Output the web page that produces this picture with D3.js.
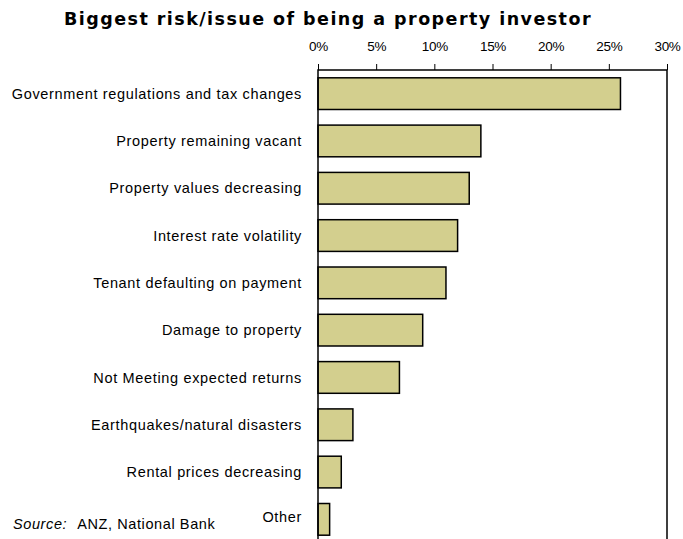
<!DOCTYPE html>
<html><head><meta charset="utf-8">
<script src="https://cdn.jsdelivr.net/npm/d3@7"></script>
<style>body{margin:0;background:#fff}svg{display:block}</style>
</head><body>
<script>
const categories = ["Government regulations and tax changes","Property remaining vacant","Property values decreasing","Interest rate volatility","Tenant defaulting on payment","Damage to property","Not Meeting expected returns","Earthquakes/natural disasters","Rental prices decreasing","Other"];
const values = [26, 14, 13, 12, 11, 9, 7, 3, 2, 1];
const tickValues = [0, 5, 10, 15, 20, 25, 30];

const W = 683, H = 539;
const svg = d3.select("body").append("svg").attr("width", W).attr("height", H);

const x = d3.scaleLinear().domain([0, 30]).range([318, 667]);
const y = d3.scaleBand().domain(categories).range([70, 543]).paddingInner(0.33).paddingOuter(0.165);

svg.append("text").attr("x", 328).attr("y", 25).attr("text-anchor", "middle")
  .attr("font-family", "DejaVu Sans").attr("font-weight", "bold").attr("font-size", 17.5)
  .attr("letter-spacing", 1.45)
  .text("Biggest risk/issue of being a property investor");

// bars
svg.selectAll("rect.bar").data(values).join("rect").attr("class","bar")
  .attr("x", x(0)).attr("y", (d,i)=>y(categories[i]))
  .attr("width", d=>x(d)-x(0)).attr("height", y.bandwidth())
  .attr("fill", "#d3cf8e").attr("stroke", "#000").attr("stroke-width", 1.5);

// frame
svg.append("path").attr("d", `M${x(0)},${H+5}V70H${x(30)}V${H+5}`)
  .attr("fill","none").attr("stroke","#000").attr("stroke-width",1.5);

// top axis
const axis = d3.axisTop(x).tickValues(tickValues).tickFormat(d=>d+"%").tickSize(6).tickPadding(13);
const ag = svg.append("g").attr("transform","translate(0,70)").call(axis);
ag.select(".domain").remove();
ag.selectAll("line").attr("stroke","#000").attr("stroke-width",1);
ag.selectAll("text").attr("font-family","Liberation Sans, Arial").attr("font-size",13.5).attr("letter-spacing",-0.3).attr("fill","#000");

// category labels
svg.selectAll("text.cat").data(categories).join("text").attr("class","cat")
  .attr("x", 302).attr("y", (d,i)=> i===9 ? y(d)+y.bandwidth()/2 - 2 : y(d)+y.bandwidth()/2)
  .attr("dy","0.35em").attr("text-anchor","end")
  .attr("font-family","Liberation Sans, Arial").attr("font-size",14.5)
  .attr("letter-spacing",0.66)
  .text(d=>d);

const src = svg.append("text").attr("x", 13).attr("y", 529)
  .attr("font-family","Liberation Sans, Arial").attr("font-size",14.5).attr("letter-spacing",0.6);
src.append("tspan").attr("font-style","italic").text("Source:");
src.append("tspan").attr("dx", 10).text("ANZ, National Bank");
</script>
</body></html>
